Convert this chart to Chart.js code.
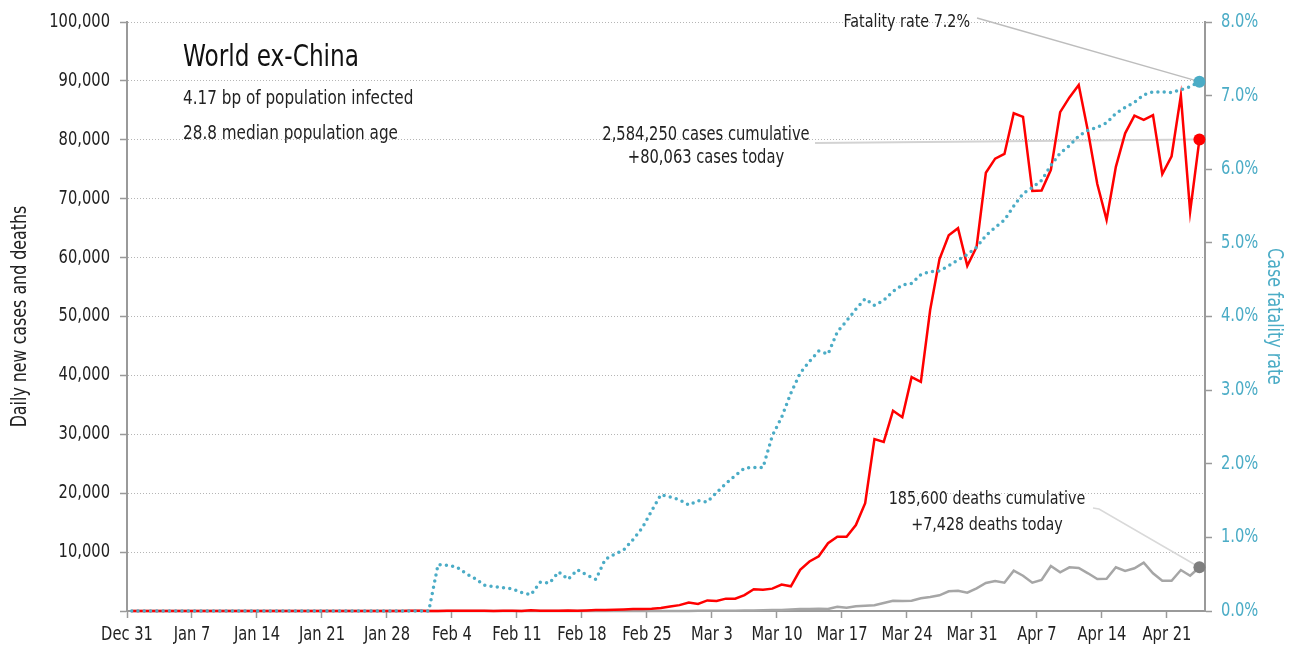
<!DOCTYPE html>
<html>
<head>
<meta charset="utf-8">
<script src="https://cdn.jsdelivr.net/npm/chart.js@4.4.1/dist/chart.umd.min.js"></script>
<style>
  html, body { margin: 0; padding: 0; background: #fff; }
</style>
</head>
<body>
<canvas id="myChart" width="1291" height="651"></canvas>
<script>
// World ex-China, one value per day from Dec 31 to Apr 24

// tick labels of the date axis (one per week)
var xTickLabels = ['Dec 31', 'Jan 7', 'Jan 14', 'Jan 21', 'Jan 28', 'Feb 4', 'Feb 11', 'Feb 18',
    'Feb 25', 'Mar 3', 'Mar 10', 'Mar 17', 'Mar 24', 'Mar 31', 'Apr 7', 'Apr 14', 'Apr 21'];

// daily new cases
var newCases = [
    0, 0, 0, 0, 0, 0, 0, 0, 0, 0,
    0, 0, 0, 1, 0, 1, 0, 0, 1, 0,
    3, 1, 4, 7, 9, 14, 11, 15, 12, 20,
    23, 24, 21, 12, 24, 27, 42, 28, 61, 19,
    40, 32, 13, 108, 54, 45, 30, 85, 52, 96,
    150, 170, 200, 250, 330, 350, 400, 500, 750, 1000,
    1450, 1200, 1800, 1700, 2100, 2100, 2700, 3700, 3600, 3800,
    4500, 4200, 7000, 8400, 9300, 11500, 12600, 12600, 14600, 18300,
    29200, 28700, 34000, 32900, 39700, 38900, 51100, 59700, 63800, 65000,
    58600, 61800, 74400, 76800, 77600, 84500, 83900, 71300, 71400, 74900,
    84700, 87200, 89300, 81400, 72500, 66400, 75400, 81100, 84100, 83400,
    84200, 74200, 77200, 87500, 67800, 80063
];

// daily new deaths
var newDeaths = [
    0, 0, 0, 0, 0, 0, 0, 0, 0, 0,
    0, 0, 0, 0, 0, 0, 0, 0, 0, 0,
    0, 0, 0, 0, 0, 0, 0, 0, 0, 0,
    0, 0, 0, 1, 0, 0, 0, 0, 0, 0,
    0, 0, 1, 0, 0, 1, 0, 0, 1, 1,
    2, 4, 3, 4, 7, 8, 11, 10, 14, 18,
    20, 24, 27, 37, 50, 58, 96, 99, 140, 150,
    190, 250, 330, 350, 400, 330, 730, 560, 800, 900,
    970, 1360, 1750, 1700, 1750, 2150, 2380, 2660, 3340, 3450,
    3110, 3850, 4750, 5090, 4800, 6850, 5990, 4800, 5260, 7640,
    6570, 7420, 7300, 6400, 5430, 5480, 7420, 6790, 7250, 8200,
    6400, 5140, 5140, 6960, 5990, 7428
];

// case fatality rate, %
var fatalityRate = [
    0, 0, 0, 0, 0, 0, 0, 0, 0, 0,
    0, 0, 0, 0, 0, 0, 0, 0, 0, 0,
    0, 0, 0, 0, 0, 0, 0, 0, 0, 0,
    0, 0, 0, 0.63, 0.62, 0.60, 0.51, 0.44, 0.35, 0.33,
    0.315, 0.30, 0.25, 0.22, 0.39, 0.38, 0.53, 0.43, 0.56, 0.49,
    0.43, 0.70, 0.77, 0.83, 0.97, 1.13, 1.36, 1.58, 1.55, 1.51,
    1.44, 1.50, 1.48, 1.61, 1.73, 1.84, 1.94, 1.95, 1.95, 2.38,
    2.63, 2.96, 3.23, 3.39, 3.53, 3.49, 3.79, 3.94, 4.10, 4.24,
    4.15, 4.22, 4.34, 4.43, 4.45, 4.57, 4.61, 4.62, 4.69, 4.77,
    4.84, 4.94, 5.10, 5.21, 5.31, 5.50, 5.67, 5.75, 5.85, 6.05,
    6.22, 6.32, 6.45, 6.53, 6.57, 6.63, 6.76, 6.84, 6.91, 7.01,
    7.05, 7.05, 7.04, 7.08, 7.12, 7.19
];

// day number since Dec 31, used as x
var days = newCases.map(function (v, i) { return i; });

var FONT = "'DejaVu Sans Condensed', 'DejaVu Sans', sans-serif";
var SQUEEZE = 0.86; // no narrow font here, so squeeze the text a bit
var TEAL = '#4bacc6';
var last = newCases.length - 1;

Chart.defaults.font.family = FONT;
Chart.defaults.color = '#222';

var ctx = document.getElementById('myChart').getContext('2d');

// every text on this canvas is drawn narrower, around its anchor
var rawFillText = ctx.fillText;
ctx.fillText = function (s, x, y) {
    this.save();
    this.translate(x, y);
    this.scale(SQUEEZE, 1);
    rawFillText.call(this, s, 0, 0);
    this.restore();
};

//only the last point gets a marker
function lastDot(r) {
    return function (c) { return c.dataIndex === last ? r : 0; };
}

function polyline(ctx, pts) {
    ctx.beginPath();
    ctx.moveTo(pts[0][0], pts[0][1]);
    for (var i = 1; i < pts.length; i++) ctx.lineTo(pts[i][0], pts[i][1]);
    ctx.stroke();
}

function text(ctx, s, x, y, size, align) {
    ctx.font = size + 'px ' + FONT;
    ctx.textAlign = align;
    ctx.fillText(s, x, y);
}

// leader lines and notes
var notes = {
    id: 'notes',
    beforeDatasetsDraw: function (chart) {
        var ctx = chart.ctx;
        var pRate = chart.getDatasetMeta(0).data[last];
        var pCases = chart.getDatasetMeta(1).data[last];
        var pDeaths = chart.getDatasetMeta(2).data[last];
        ctx.save();
        ctx.strokeStyle = '#bdbdbd';
        ctx.lineWidth = 1.5;
        polyline(ctx, [[977, 18], [pRate.x, pRate.y]]);
        ctx.strokeStyle = '#d3d3d3';
        ctx.lineWidth = 2;
        polyline(ctx, [[815, 143], [pCases.x, pCases.y]]);
        ctx.strokeStyle = '#d9d9d9';
        ctx.lineWidth = 1.5;
        polyline(ctx, [[1093, 508], [1099, 509], [pDeaths.x, pDeaths.y]]);
        ctx.restore();
    },
    afterDraw: function (chart) {
        var ctx = chart.ctx;
        ctx.save();
        ctx.fillStyle = '#111';
        ctx.textBaseline = 'alphabetic';
        text(ctx, 'World ex-China', 183, 66, 30, 'left');
        ctx.fillStyle = '#222';
        text(ctx, '4.17 bp of population infected', 183, 104, 19.7, 'left');
        text(ctx, '28.8 median population age', 183, 139, 19.7, 'left');
        text(ctx, 'Fatality rate 7.2%', 970, 27, 18.5, 'right');
        text(ctx, '2,584,250 cases cumulative', 706, 140, 19, 'center');
        text(ctx, '+80,063 cases today', 706, 163, 19, 'center');
        text(ctx, '185,600 deaths cumulative', 987, 504, 18.5, 'center');
        text(ctx, '+7,428 deaths today', 987, 530, 18.5, 'center');
        ctx.restore();
    }
};

var myChart = new Chart(ctx, {
    type: 'line',
    data: {
        labels: days,
        datasets: [{
            label: 'Case fatality rate',
            data: fatalityRate,
            yAxisID: 'y1',
            borderColor: TEAL,
            backgroundColor: TEAL,
            borderWidth: 3.5,
            borderDash: [0, 6.3],
            borderCapStyle: 'round',
            pointRadius: lastDot(6),
            pointBorderWidth: 0,
            clip: false
        }, {
            label: 'Daily new cases',
            data: newCases,
            yAxisID: 'y',
            borderColor: '#ff0000',
            backgroundColor: '#ff0000',
            borderWidth: 2.5,
            pointRadius: lastDot(6),
            pointBorderWidth: 0,
            clip: false
        }, {
            label: 'Daily new deaths',
            data: newDeaths,
            yAxisID: 'y',
            borderColor: '#a6a6a6',
            backgroundColor: '#7f7f7f',
            borderWidth: 2.5,
            pointRadius: lastDot(6),
            pointBorderWidth: 0,
            clip: false
        }]
    },
    options: {
        responsive: false,
        animation: false,
        devicePixelRatio: 1,
        layout: { padding: { top: 22, left: 0, right: 0, bottom: 0 } },
        plugins: { legend: { display: false }, tooltip: { enabled: false } },
        elements: { line: { tension: 0 } },
        scales: {
            x: {
                type: 'linear',
                min: -0.5,
                max: 115.6,
                afterBuildTicks: function (scale) {
                    scale.ticks = xTickLabels.map(function (l, i) { return { value: i * 7 - 0.5 }; });
                },
                afterFit: function (scale) { scale.height = 40; },
                ticks: {
                    autoSkip: false,
                    maxRotation: 0,
                    padding: 6,
                    color: '#222',
                    font: { size: 19 },
                    callback: function (v, i) { return xTickLabels[i]; }
                },
                grid: { drawOnChartArea: false, tickLength: 7, tickColor: '#9a9a9a', tickWidth: 1.5 },
                border: { color: '#9a9a9a', width: 2 }
            },
            y: {
                position: 'left',
                min: 0,
                max: 100000,
                afterFit: function (scale) { scale.width = 127; },
                ticks: {
                    stepSize: 10000,
                    padding: 10,
                    color: '#222',
                    font: { size: 19 },
                    callback: function (v) { return v === 0 ? '' : v.toLocaleString('en-US'); }
                },
                grid: { color: '#b5b5b5', lineWidth: 1, tickLength: 7, tickColor: '#9a9a9a', tickWidth: 1.5 },
                border: { color: '#9a9a9a', width: 2, dash: [1, 2] },
                title: {
                    display: true,
                    text: 'Daily new cases and deaths',
                    color: '#222',
                    font: { size: 20.5 },
                    padding: { top: 8, bottom: 0 }
                }
            },
            y1: {
                position: 'right',
                min: 0,
                max: 8,
                afterFit: function (scale) { scale.width = 86; },
                ticks: {
                    stepSize: 1,
                    padding: 9,
                    color: TEAL,
                    font: { size: 19 },
                    callback: function (v) { return v.toFixed(1) + '%'; }
                },
                grid: { drawOnChartArea: false, tickLength: 7, tickColor: '#9a9a9a', tickWidth: 1.5 },
                border: { color: '#9a9a9a', width: 2 },
                title: {
                    display: true,
                    text: 'Case fatality rate',
                    color: TEAL,
                    font: { size: 20.5 },
                    padding: { top: 5, bottom: 0 }
                }
            }
        }
    },
    plugins: [notes]
});
</script>
</body>
</html>
